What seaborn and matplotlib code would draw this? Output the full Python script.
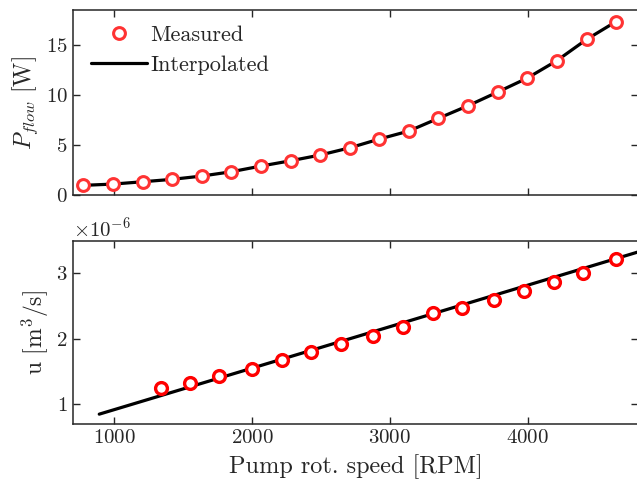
import numpy as np
import pandas as pd
import matplotlib
matplotlib.use("Agg")
import matplotlib.pyplot as plt
import seaborn as sns

# ---- data ----
rpm_power = [778, 995, 1208, 1420, 1636, 1850, 2065, 2280, 2493, 2710,
             2922, 3136, 3350, 3565, 3780, 3995, 4208, 4425, 4638]
p_measured = [0.97, 1.10, 1.33, 1.57, 1.90, 2.33, 2.90, 3.43, 4.00, 4.73,
              5.60, 6.40, 7.67, 8.93, 10.30, 11.70, 13.43, 15.57, 17.35]
p_interp = [0.97, 1.10, 1.33, 1.57, 1.90, 2.33, 2.90, 3.43, 4.00, 4.73,
            5.60, 6.40, 7.67, 8.93, 10.30, 11.70, 13.43, 15.57, 17.35]

rpm_flow = [1341, 1551, 1763, 2002, 2215, 2428, 2645, 2879, 3092, 3310,
            3524, 3756, 3971, 4191, 4401, 4638]
u_measured = [1.245e-6, 1.328e-6, 1.425e-6, 1.543e-6, 1.670e-6, 1.794e-6,
              1.928e-6, 2.050e-6, 2.177e-6, 2.390e-6, 2.465e-6, 2.596e-6,
              2.737e-6, 2.865e-6, 3.010e-6, 3.220e-6]
rpm_line = [893, 4900]
u_line = [0.85e-6, 3.39e-6]

xticks = [1000, 2000, 3000, 4000]

sns.set_style("ticks")
plt.rcParams.update({
    "font.family": "serif",
    "font.serif": ["cmr10"],
    "mathtext.fontset": "cm",
    "axes.unicode_minus": False,
    "axes.formatter.use_mathtext": True,
    "axes.edgecolor": "#262626",
    "axes.linewidth": 1.1,
    "xtick.color": "#262626",
    "ytick.color": "#262626",
    "xtick.direction": "in",
    "ytick.direction": "in",
    "xtick.top": True,
    "ytick.right": True,
    "xtick.major.size": 5,
    "ytick.major.size": 5,
})

fig = plt.figure(figsize=(6.37, 4.84), dpi=100)
ax1 = fig.add_axes([0.114, 0.597, 0.888, 0.382])
ax2 = fig.add_axes([0.114, 0.124, 0.888, 0.379])

df_p = pd.DataFrame({"rpm": rpm_power, "meas": p_measured, "interp": p_interp})
df_u = pd.DataFrame({"rpm": rpm_flow, "meas": u_measured})
df_l = pd.DataFrame({"rpm": rpm_line, "u": u_line})

# top panel
sns.lineplot(data=df_p, x="rpm", y="interp", ax=ax1, color="black", lw=2.3,
             label="Interpolated", zorder=2)
ax1.plot(df_p["rpm"], df_p["meas"], ls="none", marker="o", ms=8.5, mew=2.2,
         mec="#ff3333", mfc="white", label="Measured", zorder=3)
ax1.set_xlim(700, 4800)
ax1.set_ylim(0, 18.5)
ax1.set_xticks(xticks)
ax1.set_xticklabels([])
ax1.set_yticks([0, 5, 10, 15])
ax1.set_xlabel("")
ax1.set_ylabel(r"$P_{flow}$ [W]", fontsize=17)
h, l = ax1.get_legend_handles_labels()
order = [l.index("Measured"), l.index("Interpolated")]
ax1.legend([h[i] for i in order], [l[i] for i in order], loc="upper left",
           frameon=False, fontsize=16, handlelength=2.5, handletextpad=0.15,
           borderaxespad=0.3, labelspacing=0.45, bbox_to_anchor=(0.005, 1.0))

# bottom panel
sns.lineplot(data=df_l, x="rpm", y="u", ax=ax2, color="black", lw=2.3, zorder=2)
ax2.plot(df_u["rpm"], df_u["meas"], ls="none", marker="o", ms=8.5, mew=2.4,
         mec="#ff0000", mfc="white", zorder=3)
ax2.set_xlim(700, 4800)
ax2.set_ylim(0.7e-6, 3.5e-6)
ax2.set_xticks(xticks)
ax2.set_yticks([1e-6, 2e-6, 3e-6])
ax2.set_xlabel("Pump rot. speed [RPM]", fontsize=17.5, labelpad=5)
ax2.set_ylabel(r"u [m$^3$/s]", fontsize=17)
ax2.yaxis.get_offset_text().set_fontsize(15)

for ax in (ax1, ax2):
    ax.tick_params(labelsize=15, width=1.0)
    for s in ax.spines.values():
        s.set_visible(True)

fig.savefig("out.png", dpi=100)
